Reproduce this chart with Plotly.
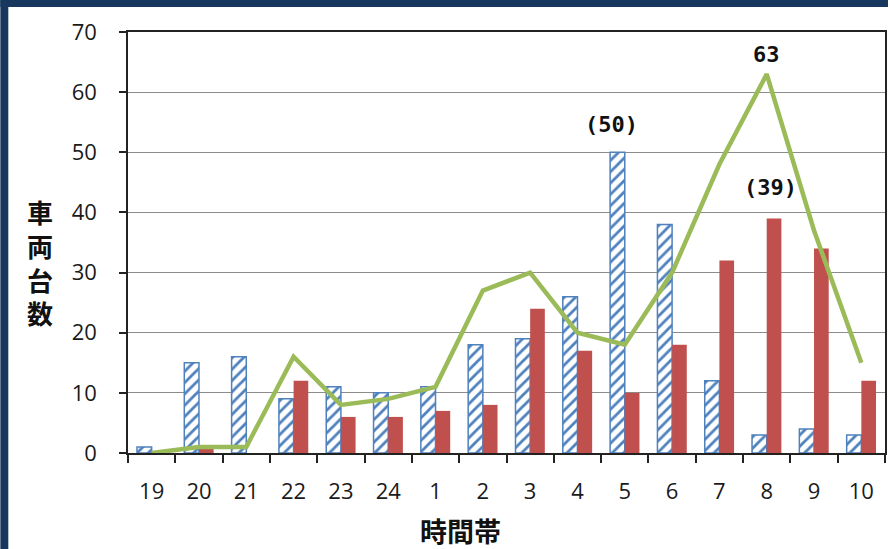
import plotly.graph_objects as go

# Hourly vehicle counts
hours = ["19", "20", "21", "22", "23", "24", "1", "2", "3", "4", "5", "6", "7", "8", "9", "10"]
series_a = [1, 15, 16, 9, 11, 10, 11, 18, 19, 26, 50, 38, 12, 3, 4, 3]
series_b = [0, 1, 0, 12, 6, 6, 7, 8, 24, 17, 10, 18, 32, 39, 34, 12]
total_line = [0, 1, 1, 16, 8, 9, 11, 27, 30, 20, 18, 30, 48, 63, 37, 15]

y_ticks = [0, 10, 20, 30, 40, 50, 60, 70]

BLUE = "#4f81bd"
RED = "#c0504d"
GREEN = "#9bbb59"
NAVY = "#17375e"

W, H = 890, 549
ML, MR, MT, MB = 128, 3, 32, 96
PW, PH = W - ML - MR, H - MT - MB

fig = go.Figure()
fig.add_trace(go.Bar(
    x=hours, y=series_a,
    marker=dict(color="white", line=dict(color=BLUE, width=1.5),
                pattern=dict(shape="/", fgcolor=BLUE, bgcolor="white",
                             size=8, solidity=0.35, fillmode="replace")),
))
fig.add_trace(go.Bar(
    x=hours, y=series_b,
    marker=dict(color=RED, line=dict(color=RED, width=0)),
))
fig.add_trace(go.Scatter(
    x=hours, y=total_line, mode="lines",
    line=dict(color=GREEN, width=4.5),
))

tick_font = dict(family="Open Sans, sans-serif", size=22, color="#1a1a1a")
label_font = dict(family="DejaVu Sans Mono", size=22, color="#111111", weight="bold")
title_font = dict(family="Noto Sans CJK JP", size=26, color="#111111", weight="bold")

fig.update_layout(
    width=W, height=H,
    margin=dict(l=ML, r=MR, t=MT, b=MB),
    paper_bgcolor="white", plot_bgcolor="white",
    showlegend=False,
    barmode="group", bargap=0.38, bargroupgap=0,
    xaxis=dict(type="category", showline=True, mirror=True,
               linecolor="#222222", linewidth=1.5,
               ticks="outside", ticklen=8, tickwidth=1.5, tickcolor="#222222",
               tickson="boundaries", showgrid=False,
               tickfont=tick_font, ticklabelstandoff=18),
    yaxis=dict(range=[0, 70], tickvals=y_ticks, showline=True, mirror=True,
               linecolor="#222222", linewidth=1.5,
               ticks="outside", ticklen=7, tickwidth=1.5, tickcolor="#222222",
               showgrid=True, gridcolor="#8c8c8c", gridwidth=1,
               zeroline=False, tickfont=tick_font, ticklabelstandoff=18),
)

# Navy frame along the left and top edges
def px_x(p):
    return (p - ML) / PW

def px_y(p):
    return (H - MB - p) / PH

fig.add_shape(type="rect", xref="paper", yref="paper",
              x0=px_x(0), x1=px_x(8), y0=px_y(H), y1=px_y(0),
              fillcolor=NAVY, line_width=0)
fig.add_shape(type="rect", xref="paper", yref="paper",
              x0=px_x(0), x1=px_x(W), y0=px_y(7), y1=px_y(0),
              fillcolor=NAVY, line_width=0)

# Axis titles
fig.add_annotation(text="車<br>両<br>台<br>数", xref="paper", yref="paper",
                   x=px_x(40), y=px_y(262), xanchor="center", yanchor="middle",
                   showarrow=False, font=title_font)
fig.add_annotation(text="時間帯", xref="paper", yref="paper",
                   x=px_x(461), y=px_y(530), xanchor="center", yanchor="middle",
                   showarrow=False, font=dict(title_font, size=27))

# Value labels at the peaks (x given as category index)
i5 = hours.index("5")
i8 = hours.index("8")
fig.add_annotation(x=i5, y=series_a[i5], text=f"({series_a[i5]})",
                   showarrow=False, xanchor="center", yanchor="bottom",
                   yshift=13, xshift=-13, font=label_font)
fig.add_annotation(x=i8, y=total_line[i8], text=f"{total_line[i8]}",
                   showarrow=False, xanchor="center", yanchor="bottom",
                   yshift=5, xshift=0, font=label_font)
fig.add_annotation(x=i8, y=series_b[i8], text=f"({series_b[i8]})",
                   showarrow=False, xanchor="center", yanchor="bottom",
                   yshift=16, xshift=4, font=label_font)

fig.write_html("out.html")
